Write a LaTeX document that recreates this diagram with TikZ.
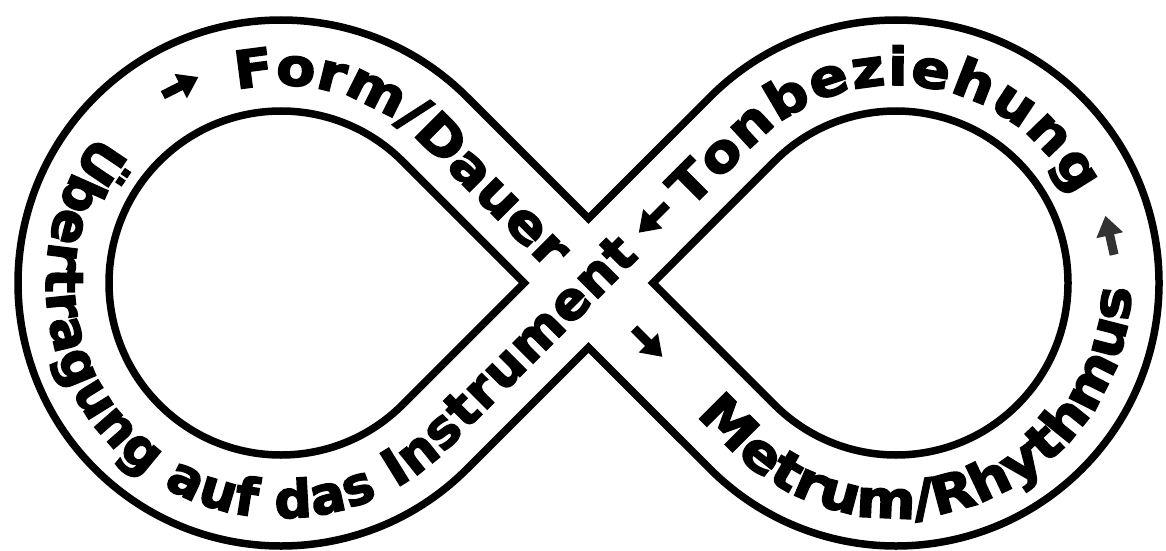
\documentclass[tikz,border=0pt]{standalone}
\usepackage{fontspec}
\newfontfamily\tfont{DejaVu Sans Bold}[FakeBold=3, FakeStretch=1.1]
\newfontfamily\tfontn{DejaVu Sans Bold}[FakeBold=3]
\usetikzlibrary{calc,decorations.text,arrows.meta}
\newcommand\lblfont{\tfont\fontsize{52}{52}\selectfont}
\newcommand\lblfontn{\tfontn\fontsize{52}{52}\selectfont}
\begin{document}
\begin{tikzpicture}[x=1pt,y=1pt,
  track/.style={line width=7.5pt, line join=miter},
  flow/.style={line width=9pt, -{Triangle[length=20pt,width=26pt]}},
  lbl/.style={decorate, decoration={text along path, text align={fit to path}, text={#1}}}]
\useasboundingbox (0,0) rectangle (1166,550);
\coordinate (L) at (281,267);
\coordinate (R) at (896,267);
\coordinate (C) at (588.5,267);
\coordinate (Vt) at (588.5,331.5);
\coordinate (Vb) at (588.5,202.5);
% outer contour
\draw[track] ($(L)+(45:263)$) arc[start angle=45,end angle=315,radius=263] -- (Vb)
  -- ($(R)+(225:263)$) arc[start angle=225,end angle=495,radius=263] -- (Vt) -- cycle;
% inner contours
\draw[track] ($(L)+(45:172)$) arc[start angle=45,end angle=315,radius=172] -- ($(L)+(0:243.2)$) -- cycle;
\draw[track] ($(R)+(225:172)$) arc[start angle=225,end angle=495,radius=172] -- ($(R)+(180:243.2)$) -- cycle;
% texts
\path[lbl={|\lblfontn|Übertragung auf das Instrument}] ($(L)+(141:235)$) arc[start angle=141,end angle=315,radius=235] -- ++(45:272);
\path[lbl={|\lblfont|Form/Dauer}] ($(L)+(103:198)$) arc[start angle=103,end angle=45,radius=198] -- ++(-45:181);
\path[lbl={|\lblfont|Tonbeziehung}] ($(R)+(135:198)+(225:94)$) -- ($(R)+(135:198)$) arc[start angle=135,end angle=26,radius=198];
\path[lbl={|\lblfont|Metrum/Rhythmus}] ($(R)+(225:235)+(135:48)$) -- ($(R)+(225:235)$) arc[start angle=225,end angle=358,radius=235];
% arrows
\coordinate (A1) at ($(L)+(117:221)$);
\coordinate (A2) at ($(C)+(45:91)$);
\coordinate (A3) at ($(C)+(-45:84.5)$);
\coordinate (A4) at ($(R)+(12.6:219)$);
\draw[flow] ($(A1)+(207:20)$) -- ($(A1)+(27:20)$);
\draw[flow] ($(A2)+(45:20)$) -- ($(A2)+(225:20)$);
\draw[flow] ($(A3)+(135:20)$) -- ($(A3)+(-45:20)$);
\draw[flow, black!80] ($(A4)+(282.6:20)$) -- ($(A4)+(102.6:20)$);
\end{tikzpicture}
\end{document}
